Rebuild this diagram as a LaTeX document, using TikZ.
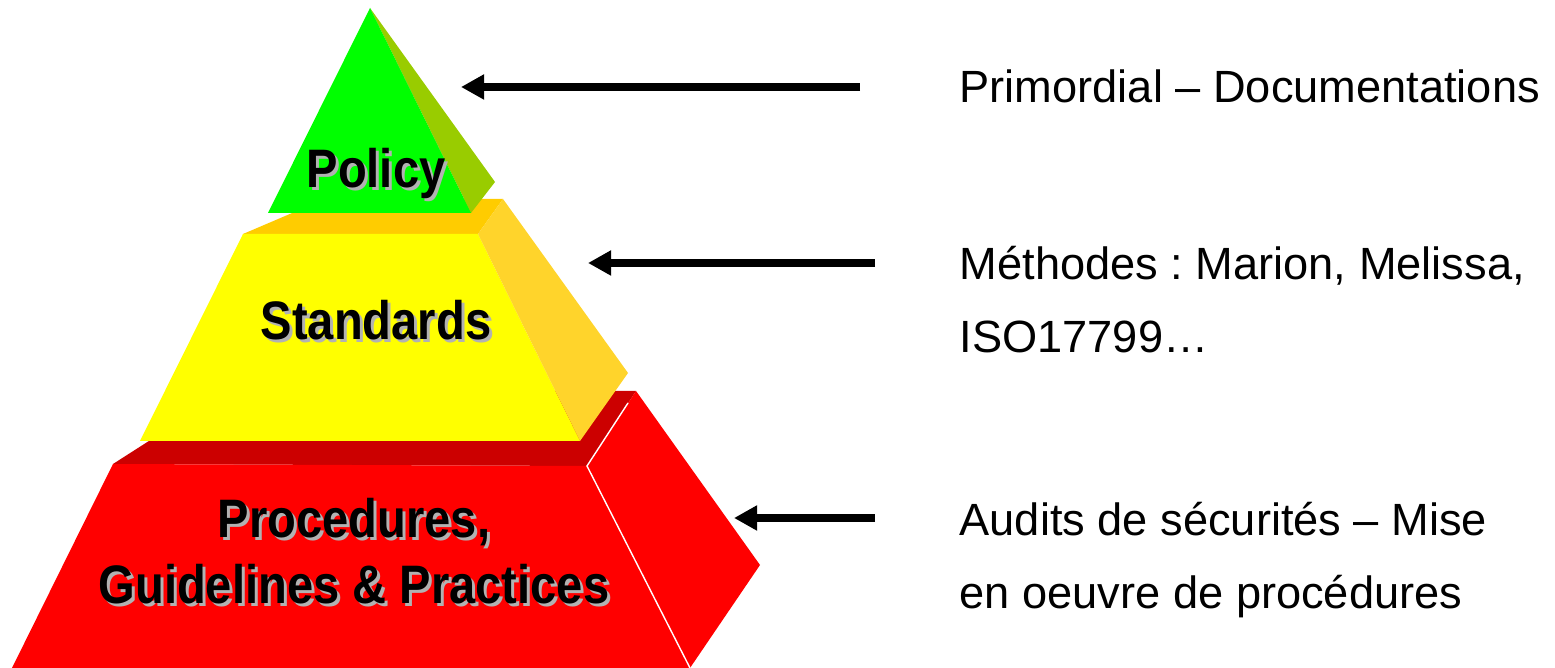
\documentclass[tikz,border=0pt]{standalone}
\usepackage{fontspec}
\setmainfont{Liberation Sans}
\usetikzlibrary{arrows.meta}
\frenchspacing

\definecolor{greenfront}{HTML}{00FF00}
\definecolor{greenside}{HTML}{99CC00}
\definecolor{yellowfront}{HTML}{FFFF00}
\definecolor{yellowtop}{HTML}{FFCC00}
\definecolor{yellowside}{HTML}{FFD42B}
\definecolor{redfront}{HTML}{FF0000}
\definecolor{redtop}{HTML}{CC0000}
\definecolor{shadowgray}{HTML}{B2B2B2}

\tikzset{
  layertext/.style={font=\fontsize{13.4pt}{19pt}\selectfont\bfseries, align=center, anchor=base, inner sep=0pt},
  layershade/.style={layertext, text=shadowgray, xshift=0.03cm, yshift=-0.03cm},
  note/.style={font=\fontsize{12.85pt}{21pt}\selectfont, align=left, anchor=base west, inner sep=0pt},
  pointer/.style={line width=2pt, -{Triangle[length=6.6pt,width=6.8pt]}},
}

% layer words are set a little taller than wide
\newcommand{\tall}[1]{\scalebox{1}[1.15]{#1}}
% label of a layer, with its grey drop shadow
\newcommand{\layerlabel}[3]{%
  \node[layershade] at (#2) {#3};
  \node[layertext] (#1) at (#2) {#3};}

\begin{document}
\begin{tikzpicture}[x=0.01cm, y=-0.01cm]
  \useasboundingbox (0,0) rectangle (1555,668);

  % bottom layer
  \fill[redtop] (113,464) -- (227,391) -- (636,391) -- (587,466) -- cycle;
  \fill[redfront] (113,464) -- (587,466) -- (690,668) -- (12,668) -- cycle;
  \fill[redfront] (587,466) -- (636,391) -- (760,565) -- (690,668) -- cycle;
  \draw[white, line width=0.4pt] (628,403) -- (587,466) -- (690,668);

  % middle layer
  \fill[yellowtop] (243,234) -- (325,199) -- (503,199) -- (478,234) -- cycle;
  \fill[yellowfront] (243,234) -- (478,234) -- (580,441) -- (140,441) -- cycle;
  \fill[yellowside] (478,234) -- (503,199) -- (628,373) -- (580,441) -- cycle;

  % top
  \fill[greenside] (370,8) -- (495,182) -- (471,213) -- cycle;
  \fill[greenfront] (370,8) -- (471,213) -- (268,213) -- cycle;

  \layerlabel{policy}{376,188}{\tall{Policy}}
  \layerlabel{standards}{376,340}{\tall{Standards}}
  \layerlabel{procedures}{354,604}{\tall{Procedures,}\\\tall{Guidelines \& Practices}}

  \node[note] (doc) at (959,103) {Primordial – Documentations};
  \node[note] (meth) at (959,353) {Méthodes : Marion, Melissa,\\ISO17799…};
  \node[note] (audit) at (959,609) {Audits de sécurités – Mise\\en oeuvre de procédures};

  \coordinate (docfrom) at (860,87);
  \coordinate (docto) at (461,87);
  \coordinate (methfrom) at (875,263);
  \coordinate (methto) at (588,263);
  \coordinate (auditfrom) at (875,518);
  \coordinate (auditto) at (734,518);
  \foreach \s in {doc,meth,audit}
    \draw[pointer] (\s from) -- (\s to);
\end{tikzpicture}
\end{document}
